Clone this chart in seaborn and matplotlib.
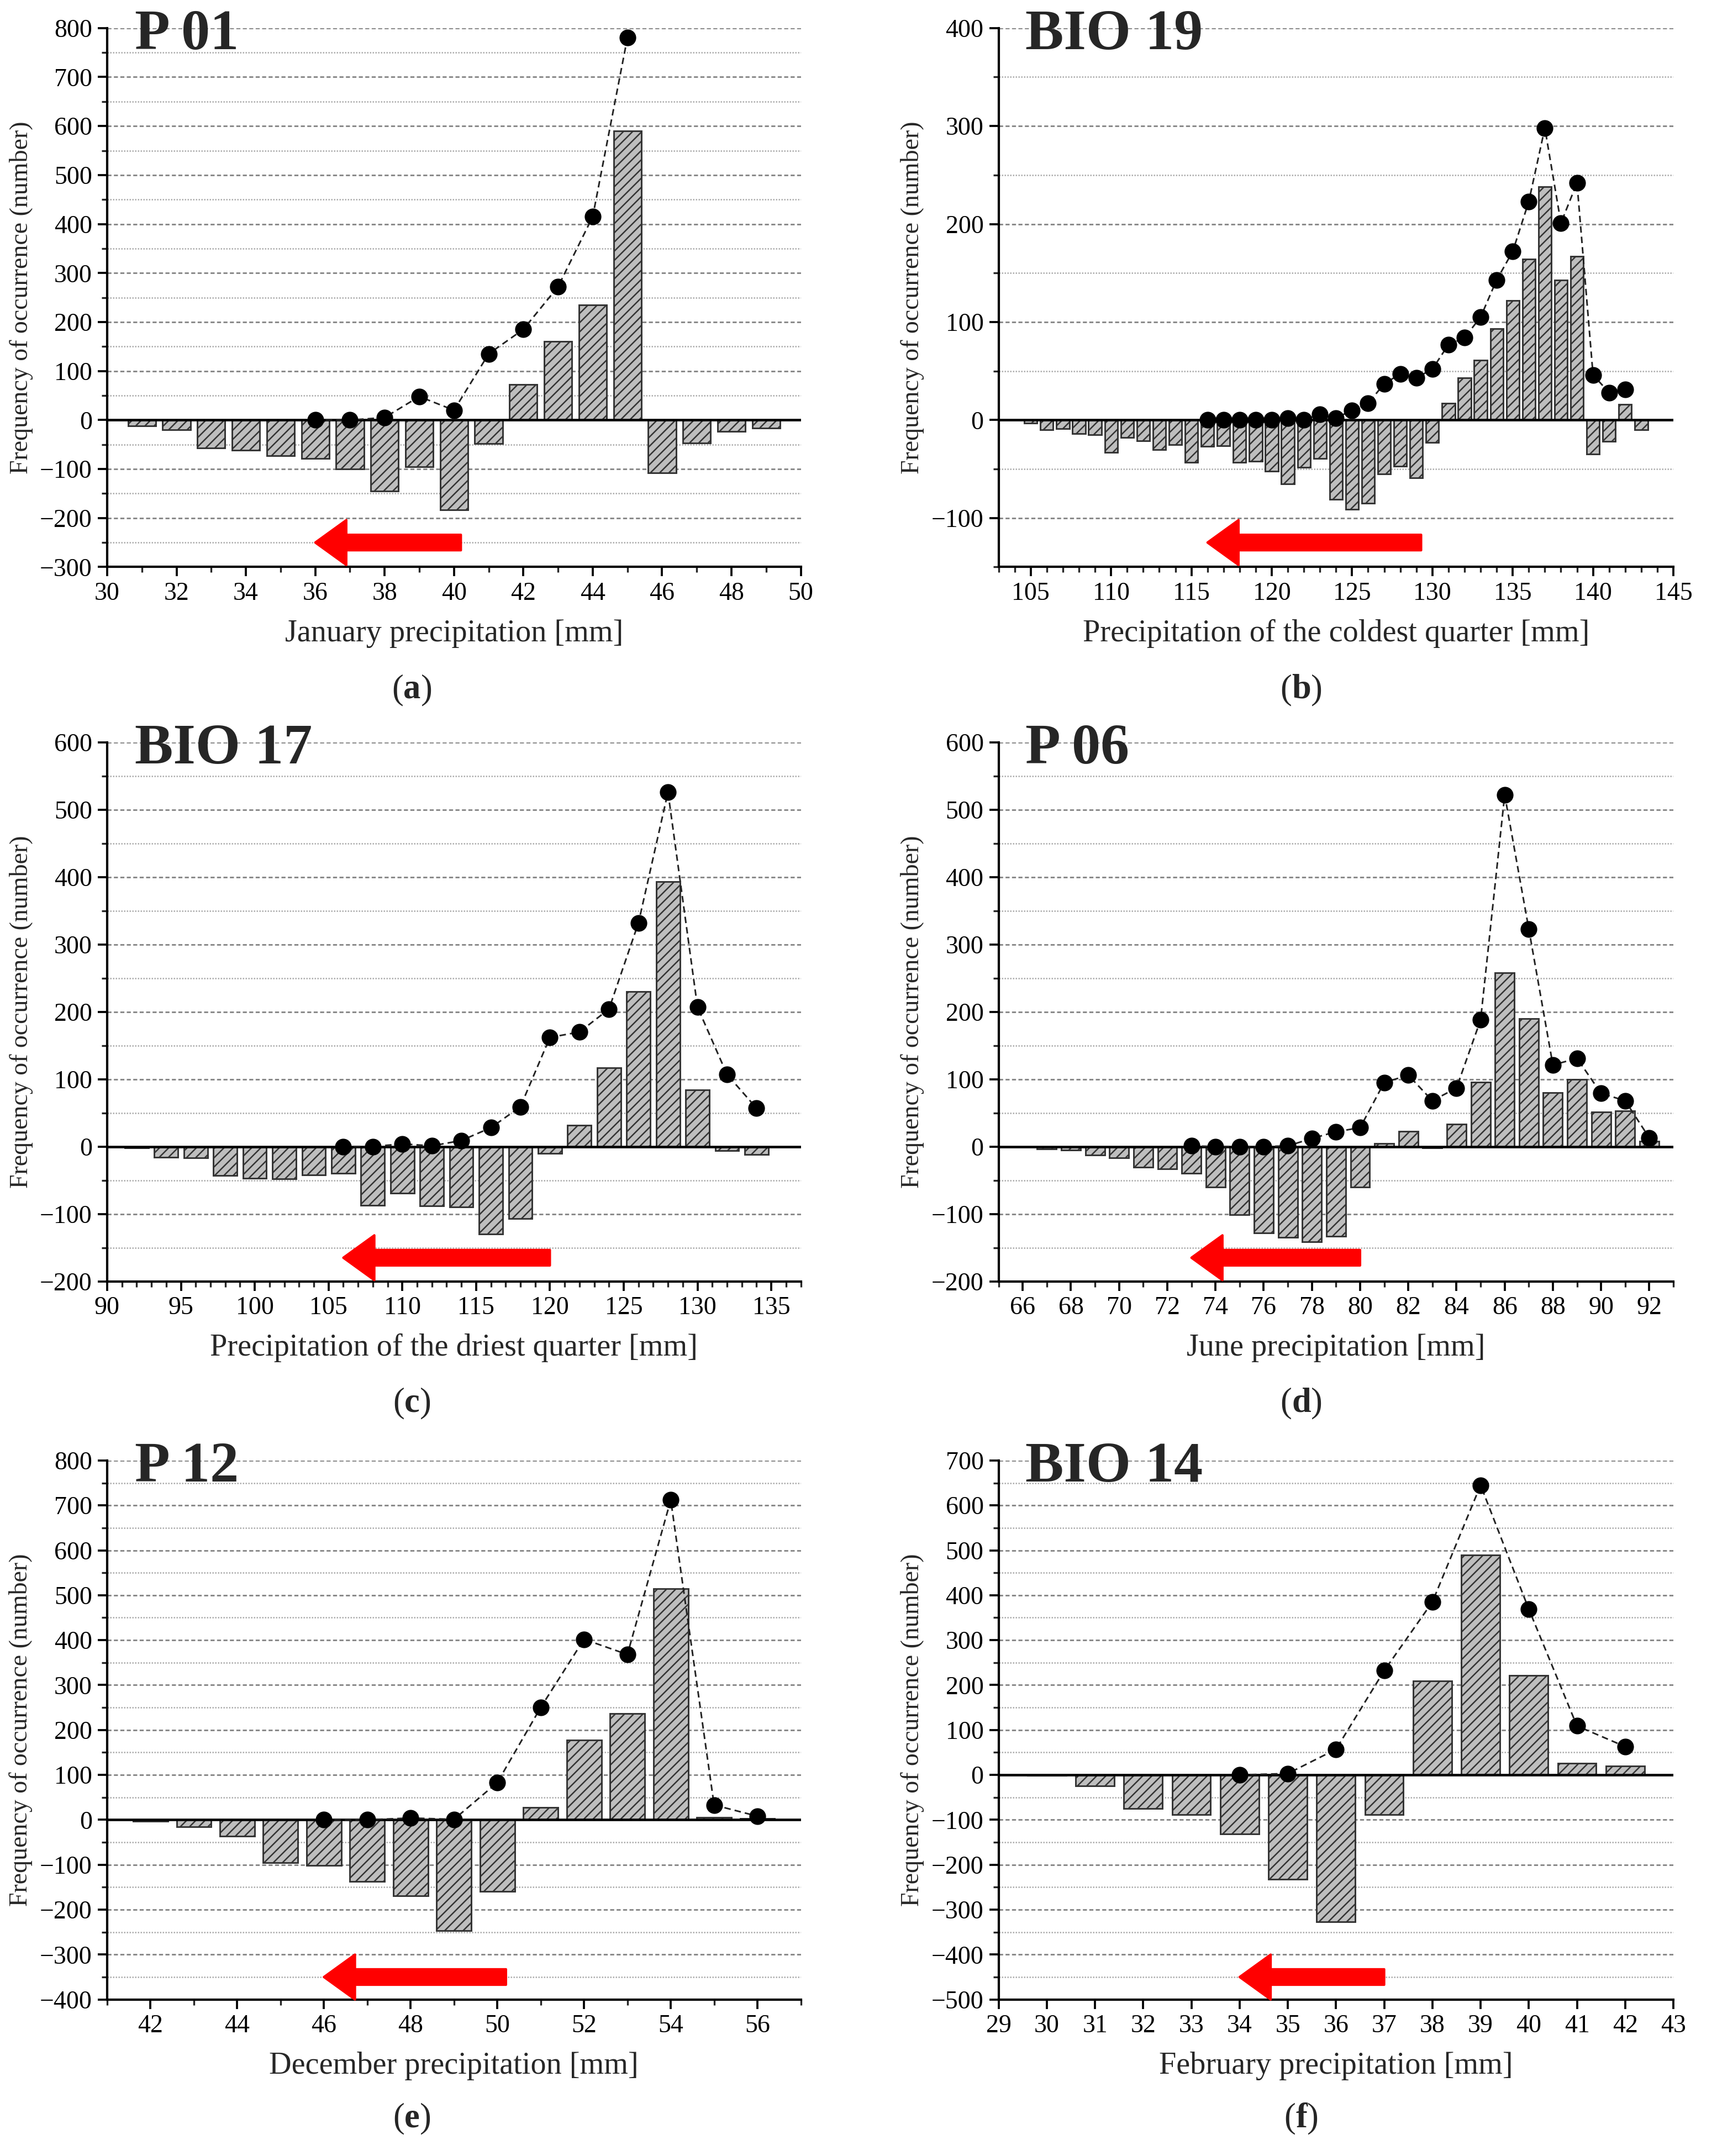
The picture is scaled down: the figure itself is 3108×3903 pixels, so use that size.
import numpy as np
import pandas as pd
import seaborn as sns
import matplotlib.pyplot as plt
from matplotlib.ticker import MultipleLocator

sns.set_style('ticks')
plt.rcParams['font.family'] = ['Liberation Serif', 'DejaVu Serif']
plt.rcParams['hatch.linewidth'] = 0.6
plt.rcParams['hatch.color'] = '#333333'

# (a) P 01 - January precipitation
a_bar_x = [31, 32, 33, 34, 35, 36, 37, 38, 39, 40, 41, 42, 43, 44, 45, 46, 47, 48, 49]
a_bar_y = [-12, -20, -57, -62, -73, -78, -100, -145, -95, -183, -48, 73, 160, 235, 590, -108, -47, -23, -16]
a_dot_x = [36, 37, 38, 39, 40, 41, 42, 43, 44, 45]
a_dot_y = [0, 0, 5, 48, 20, 135, 185, 272, 415, 780]

# (b) BIO 19 - precipitation of the coldest quarter
b_bar_x = list(range(105, 144))
b_bar_y = [-3, -10, -9, -14, -15, -33, -18, -21, -30, -25, -43, -27, -26, -43, -42, -52, -65, -48, -39, -81,
           -91, -85, -55, -47, -59, -23, 17, 43, 61, 93, 122, 164, 238, 143, 167, -35, -22, 16, -10]
b_dot_x = list(range(116, 143))
b_dot_y = [0, 0, 0, 0, 0, 2, 0, 6, 2, 10, 17, 37, 47, 43, 52, 77, 84, 105, 143, 172, 223, 298, 201, 242,
           46, 28, 31]

# (c) BIO 17 - precipitation of the driest quarter
c_bar_x = list(range(92, 135, 2))
c_bar_y = [-2, -16, -17, -43, -47, -48, -42, -40, -87, -69, -88, -90, -130, -107, -10, 32, 117, 230, 393,
           84, -6, -12]
c_dot_x = list(range(106, 135, 2))
c_dot_y = [0, 0, 4, 1, 9, 28, 59, 162, 170, 204, 332, 526, 207, 107, 57]

# (d) P 06 - June precipitation
d_bar_x = list(range(67, 93))
d_bar_y = [-4, -5, -13, -17, -31, -33, -40, -60, -101, -128, -135, -141, -133, -60, 5, 23, -2, 33, 96, 258,
           190, 80, 100, 51, 53, 8]
d_dot_x = list(range(73, 93))
d_dot_y = [1, 0, 0, 0, 1, 12, 22, 28, 95, 106, 68, 87, 188, 522, 323, 121, 131, 79, 68, 13]

# (e) P 12 - December precipitation
e_bar_x = list(range(42, 57))
e_bar_y = [-3, -16, -37, -95, -101, -137, -169, -247, -159, 28, 177, 236, 514, 5, 3]
e_dot_x = list(range(46, 57))
e_dot_y = [0, 0, 4, 1, 83, 250, 402, 368, 712, 33, 8]

# (f) BIO 14 - February precipitation
f_bar_x = list(range(30, 43))
f_bar_y = [-1, -25, -75, -88, -132, -232, -327, -89, 209, 490, 222, 26, 20]
f_dot_x = list(range(34, 43))
f_dot_y = [0, 3, 57, 232, 385, 645, 369, 109, 63]

panels = [
    dict(tag='a', title='P 01', xlabel='January precipitation [mm]', bx=a_bar_x, by=a_bar_y, dx=a_dot_x, dy=a_dot_y,
         xlim=(30, 50), ylim=(-300, 800), xmaj=2, xmin=1, arrow=(40.2, 36, -250)),
    dict(tag='b', title='BIO 19', xlabel='Precipitation of the coldest quarter [mm]', bx=b_bar_x, by=b_bar_y,
         dx=b_dot_x, dy=b_dot_y, xlim=(103, 145), ylim=(-150, 400), xmaj=5, xmin=1, arrow=(129.3, 116, -125)),
    dict(tag='c', title='BIO 17', xlabel='Precipitation of the driest quarter [mm]', bx=c_bar_x, by=c_bar_y,
         dx=c_dot_x, dy=c_dot_y, xlim=(90, 137), ylim=(-200, 600), xmaj=5, xmin=1, arrow=(120, 106, -165)),
    dict(tag='d', title='P 06', xlabel='June precipitation [mm]', bx=d_bar_x, by=d_bar_y, dx=d_dot_x, dy=d_dot_y,
         xlim=(65, 93), ylim=(-200, 600), xmaj=2, xmin=1, arrow=(80, 73, -165)),
    dict(tag='e', title='P 12', xlabel='December precipitation [mm]', bx=e_bar_x, by=e_bar_y, dx=e_dot_x, dy=e_dot_y,
         xlim=(41, 57), ylim=(-400, 800), xmaj=2, xmin=1, arrow=(50.2, 46, -350)),
    dict(tag='f', title='BIO 14', xlabel='February precipitation [mm]', bx=f_bar_x, by=f_bar_y, dx=f_dot_x, dy=f_dot_y,
         xlim=(29, 43), ylim=(-500, 700), xmaj=1, xmin=1, arrow=(37, 34, -450)),
]

fig = plt.figure(figsize=(3108 / 300, 3903 / 300), dpi=300)
lefts = [0.0624, 0.5816]
widths = [0.404, 0.393]
bottoms = [0.737, 0.4057, 0.0726]
label_y = [0.680, 0.349, 0.0172]
label_x = [0.24, 0.758]

for i, p in enumerate(panels):
    row, col = divmod(i, 2)
    ax = fig.add_axes([lefts[col], bottoms[row], widths[col], 0.250])
    df = pd.DataFrame({'x': p['bx'], 'y': p['by']})
    sns.barplot(data=df, x='x', y='y', native_scale=True, color='#bebebe', saturation=1,
                width=0.8, edgecolor='#333333', linewidth=0.7, errorbar=None, ax=ax, zorder=2)
    for bar in ax.patches:
        bar.set_hatch('//////')
    dots = pd.DataFrame({'x': p['dx'], 'y': p['dy']})
    sns.lineplot(data=dots, x='x', y='y', ax=ax, color='#222222', linestyle=(0, (4, 2.5)), linewidth=0.7,
                 marker='o', markersize=6.5, markerfacecolor='black', markeredgecolor='black', zorder=4)
    ax.axhline(0, color='black', lw=1.1, zorder=3)

    x0, x1, yv = p['arrow']
    ax.annotate('', xy=(x1, yv), xytext=(x0, yv),
                arrowprops=dict(arrowstyle='simple,head_length=0.9,head_width=1.3,tail_width=0.45',
                                color='#ff0000', mutation_scale=15, shrinkA=0, shrinkB=0), zorder=5)

    ax.set_xlim(*p['xlim'])
    ax.set_ylim(*p['ylim'])
    ax.xaxis.set_major_locator(MultipleLocator(p['xmaj']))
    ax.xaxis.set_minor_locator(MultipleLocator(p['xmin']))
    ax.yaxis.set_major_locator(MultipleLocator(100))
    ax.yaxis.set_minor_locator(MultipleLocator(50))
    ax.set_axisbelow(True)
    ax.grid(which='major', axis='y', color='#888888', linestyle=(0, (2.5, 1.5)), linewidth=0.7)
    ax.grid(which='minor', axis='y', color='#aaaaaa', linestyle=(0, (1, 1)), linewidth=0.6)
    ax.grid(which='both', axis='x', visible=False)
    sns.despine(ax=ax)
    for s in ['left', 'bottom']:
        ax.spines[s].set_linewidth(1.0)
        ax.spines[s].set_color('black')
    ax.tick_params(which='major', direction='out', length=4, width=0.9, labelsize=11, colors='black', pad=2.5)
    ax.tick_params(which='minor', direction='out', length=2.5, width=0.8)
    ax.set_xlabel(p['xlabel'], fontsize=13.5, labelpad=6)
    ax.set_ylabel('Frequency of occurrence (number)', fontsize=11, labelpad=3)
    ax.text(0.04, 1.035, p['title'], transform=ax.transAxes, fontsize=25, fontweight='bold',
            va='top', ha='left')

    t = fig.text(label_x[col], label_y[row], p['tag'], fontsize=15, fontweight='bold', ha='center', va='center')
    ax.annotate('(', xy=(0, 0.5), xycoords=t, ha='right', va='center', fontsize=15)
    ax.annotate(')', xy=(1, 0.5), xycoords=t, ha='left', va='center', fontsize=15)

fig.savefig('out.png', dpi=300)
